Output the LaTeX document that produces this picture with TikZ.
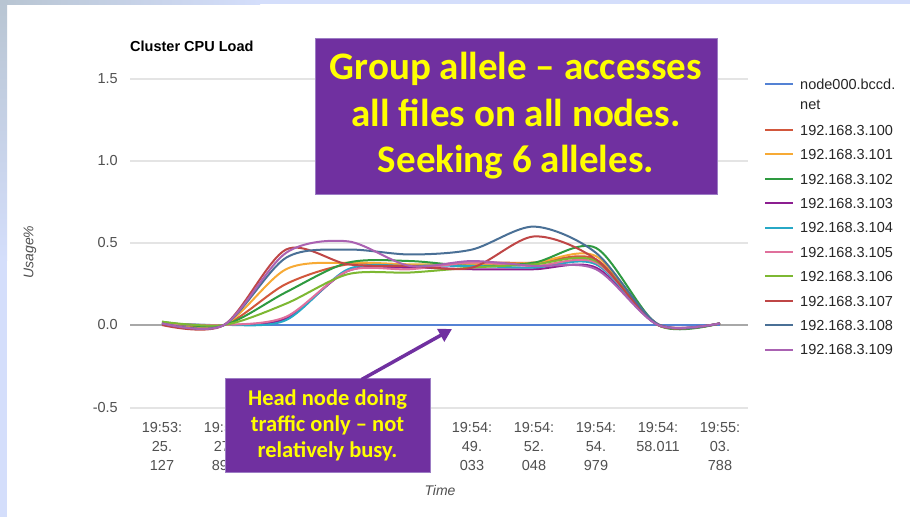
\documentclass[tikz,border=0pt]{standalone}
\usepackage{fontspec}
\setmainfont{Liberation Sans}
\newfontfamily\calib{Carlito}
\usetikzlibrary{arrows.meta}

% slide and chart colours
\definecolor{framegray}{HTML}{B8C5D2}
\definecolor{frameblue}{HTML}{D4DEFB}
\definecolor{gridgray}{HTML}{E4E4E4}
\definecolor{zerogray}{HTML}{A8A8A8}
\definecolor{ticktext}{HTML}{505050}
\definecolor{legtext}{HTML}{262626}
\definecolor{notepurple}{HTML}{7030A0}
\definecolor{noteedge}{HTML}{9C7CC4}
\definecolor{noteyellow}{HTML}{FFFF00}
% series palette
\definecolor{cHead}{HTML}{5482D4}
\definecolor{cA}{HTML}{D2573C}
\definecolor{cB}{HTML}{F7AA35}
\definecolor{cC}{HTML}{2E9A40}
\definecolor{cD}{HTML}{8C1E90}
\definecolor{cE}{HTML}{27A8C6}
\definecolor{cF}{HTML}{E0709C}
\definecolor{cG}{HTML}{7DB832}
\definecolor{cH}{HTML}{BF4646}
\definecolor{cI}{HTML}{4A7096}
\definecolor{cJ}{HTML}{AA62B2}

\begin{document}
\begin{tikzpicture}[x=1pt,y=-1pt,
  grid/.style={draw=gridgray,line width=1.2pt},
  zeroline/.style={draw=zerogray,line width=1.2pt},
  tick/.style={inner sep=0pt,text=ticktext,font=\fontsize{14.5}{19}\selectfont},
  xtick/.style={tick,anchor=north,align=center},
  axistitle/.style={inner sep=0pt,text=ticktext,font=\itshape\fontsize{14}{17}\selectfont},
  legentry/.style={inner sep=0pt,anchor=base west,text=legtext,font=\fontsize{14.5}{18}\selectfont},
  legline/.style={line width=2pt},
  serie/.style={line width=2pt,line join=round},
  note/.style={fill=notepurple,draw=noteedge,line width=0.8pt,inner sep=0pt,
    text=noteyellow,align=center},
  pointer/.style={draw=notepurple,line width=3.5pt,
    -{Triangle[length=13pt,width=14pt]}}]
\useasboundingbox (0,0) rectangle (910,517);
\fill[white] (0,0) rectangle (910,517);

% slide frame along the top and left edges
\shade[left color=framegray,right color=frameblue] (0,0) rectangle (260,4);
\fill[frameblue] (259,0) rectangle (910,4);
\shade[top color=framegray,bottom color=frameblue] (0,0) rectangle (7,260);
\fill[frameblue] (0,259) rectangle (7,517);

% chart title
\node[inner sep=0pt,anchor=base west,font=\bfseries\fontsize{14.5}{17}\selectfont]
  (title) at (130,51) {Cluster CPU Load};

% horizontal gridlines and value axis labels
\foreach \yy in {79,161,243,408} \draw[grid] (130,\yy) -- (748,\yy);
\draw[zeroline] (130,325) -- (748,325);
\foreach \val/\yy/\nm in {1.5/79/a,1.0/161/b,0.5/243/c,0.0/325/d,-0.5/408/e}
  \node[tick,anchor=east] (ytick\nm) at (118,\yy) {\val};
\node[axistitle,rotate=90] (ytitle) at (30,252) {Usage\%};

% time axis labels
\node[xtick] (xt0) at (162,422) {19:53:\\25.\\127};
\node[xtick] (xt1) at (224,422) {19:53:\\27.\\895};
\node[xtick] (xt5) at (472,422) {19:54:\\49.\\033};
\node[xtick] (xt6) at (534,422) {19:54:\\52.\\048};
\node[xtick] (xt7) at (596,422) {19:54:\\54.\\979};
\node[xtick] (xt8) at (658,422) {19:54:\\58.011};
\node[xtick] (xt9) at (720,422) {19:55:\\03.\\788};
\node[axistitle] (xtitle) at (440,490) {Time};

% load curves: one sample per time label, value axis in usage units
\begin{scope}[shift={(162,325)},x=62pt,y=164pt]
  \draw[serie,cHead] (0,0) -- (9,0);
  \draw[serie,cA] plot[smooth,tension=0.5] coordinates
    {(0,0.01) (1,0) (2,0.25) (3,0.37) (4,0.36) (5,0.38) (6,0.38) (7,0.40) (8,0.005) (9,0.01)};
  \draw[serie,cB] plot[smooth,tension=0.5] coordinates
    {(0,0.01) (1,0) (2,0.34) (3,0.38) (4,0.37) (5,0.37) (6,0.38) (7,0.42) (8,0.0) (9,0.01)};
  \draw[serie,cC] plot[smooth,tension=0.5] coordinates
    {(0,0.02) (1,0) (2,0.20) (3,0.38) (4,0.39) (5,0.36) (6,0.38) (7,0.47) (8,0.0) (9,0.01)};
  \draw[serie,cD] plot[smooth,tension=0.5] coordinates
    {(0,0.01) (1,0) (2,0.04) (3,0.33) (4,0.35) (5,0.34) (6,0.34) (7,0.35) (8,0.0) (9,0.01)};
  \draw[serie,cE] plot[smooth,tension=0.5] coordinates
    {(0,0.01) (1,0) (2,0.03) (3,0.34) (4,0.36) (5,0.36) (6,0.35) (7,0.37) (8,0.0) (9,0.01)};
  \draw[serie,cF] plot[smooth,tension=0.5] coordinates
    {(0,0.01) (1,0) (2,0.05) (3,0.33) (4,0.34) (5,0.38) (6,0.36) (7,0.38) (8,0.0) (9,0.01)};
  \draw[serie,cG] plot[smooth,tension=0.5] coordinates
    {(0,0.02) (1,0) (2,0.13) (3,0.31) (4,0.32) (5,0.35) (6,0.37) (7,0.39) (8,0.0) (9,0.01)};
  \draw[serie,cH] plot[smooth,tension=0.5] coordinates
    {(0,0.0) (1,0) (2,0.46) (3,0.37) (4,0.36) (5,0.35) (6,0.54) (7,0.40) (8,0.0) (9,0.01)};
  \draw[serie,cI] plot[smooth,tension=0.5] coordinates
    {(0,0.01) (1,0) (2,0.41) (3,0.46) (4,0.43) (5,0.46) (6,0.60) (7,0.44) (8,0.005) (9,0.01)};
  \draw[serie,cJ] plot[smooth,tension=0.5] coordinates
    {(0,0.01) (1,0) (2,0.44) (3,0.51) (4,0.36) (5,0.39) (6,0.36) (7,0.34) (8,0.0) (9,0.01)};
\end{scope}

% legend
\draw[legline,cHead] (765,84) -- (793,84);
\node[legentry] (leg0) at (800,89.3) {node000.bccd.};
\node[legentry] (leg0b) at (800,109.3) {net};
\foreach \k/\col in {0/cA,1/cB,2/cC,3/cD,4/cE,5/cF,6/cG,7/cH,8/cI,9/cJ}{
  \pgfmathsetmacro{\ly}{130+24.4*\k}
  \draw[legline,\col] (765,\ly) -- (793,\ly);
  \node[legentry] (leg\k) at (800,\ly+5.3) {192.168.3.10\k};
}

% callouts
\node[note,minimum width=402pt,minimum height=156pt,
  font=\calib\bfseries\fontsize{39}{46.5}\selectfont]
  (groupnote) at (516,116) {Group allele – accesses\\all files on all nodes.\\Seeking 6 alleles.};
\node[note,minimum width=205pt,minimum height=94pt,
  font=\calib\bfseries\fontsize{22.5}{26}\selectfont]
  (headnote) at (327.5,425) {Head node doing\\traffic only – not\\relatively busy.};
\coordinate (headline) at (452,329);
\draw[pointer] ([xshift=34pt,yshift=-2pt]headnote.north) -- (headline);
\end{tikzpicture}
\end{document}
